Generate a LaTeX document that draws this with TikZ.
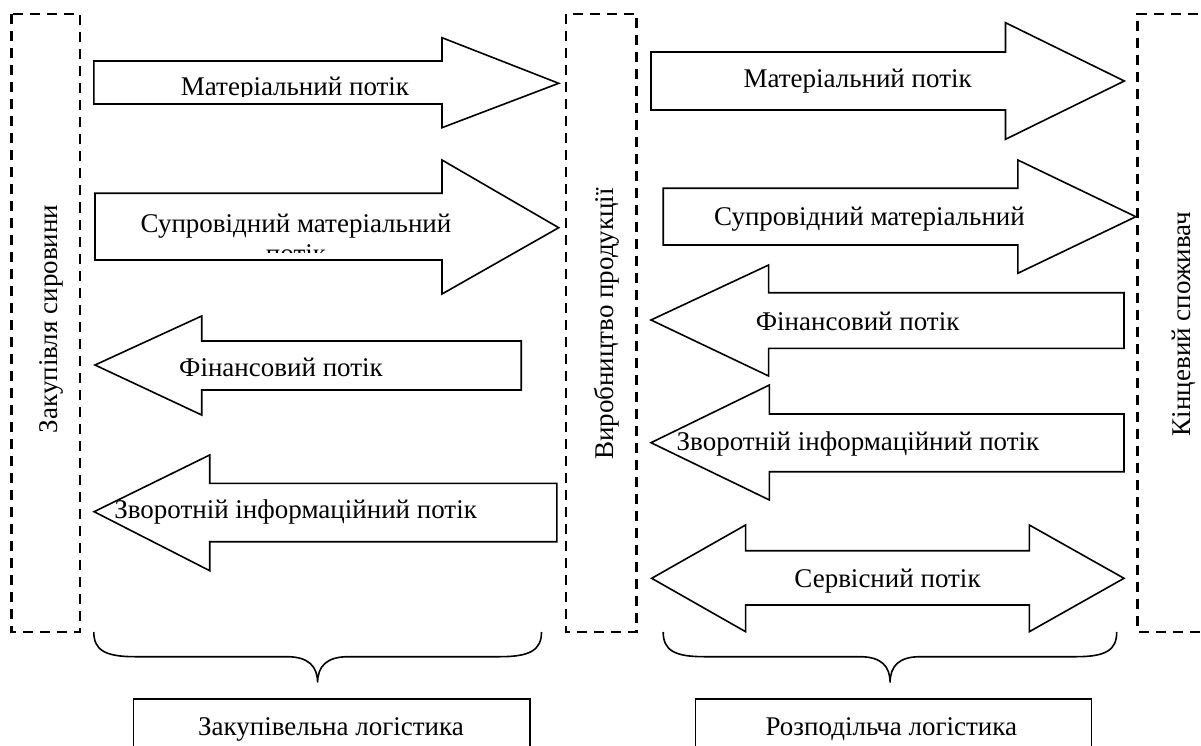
\documentclass[tikz,border=0pt]{standalone}
\usepackage{fontspec}
\setmainfont{Liberation Serif}
\begin{document}
\begin{tikzpicture}[x=1pt,y=-1pt,
  flow/.style={draw=black, line width=1.6pt, fill=white, line join=miter},
  zone/.style={draw=black, line width=2.2pt, dash pattern=on 10pt off 7pt},
  lbl/.style={font=\fontsize{27}{30}\selectfont, inner sep=0pt, anchor=base},
  vlbl/.style={font=\fontsize{27}{30}\selectfont, inner sep=0pt, anchor=base, rotate=90},
  brace/.style={draw=black, line width=1.6pt},
  box/.style={draw=black, line width=1.6pt, anchor=north west, inner sep=0pt}]
\clip (0,0) rectangle (1201,746);
\fill[white] (0,0) rectangle (1201,746);

% dashed zones
\draw[zone] (11.5,14) rectangle (79.6,631.7);
\draw[zone] (565.6,14) rectangle (636.4,631.7);
\draw[zone] (1215,14) -| (1137.4,631.7) -- (1215,631.7);

\node[vlbl] (zs) at (57,319) {Закупівля сировини};
\node[vlbl] (vp) at (613,324) {Виробництво продукції};
\node[vlbl] (ks) at (1190,324) {Кінцевий споживач};

% left panel arrows
\draw[flow] (93.8,61) -- (442,61) -- (442,37.7) -- (558.7,83.3) -- (442,127.7) -- (442,104) -- (93.8,104) -- cycle;
\begin{scope}
  \clip (94,61) rectangle (460,97);
  \node[lbl] (a1) at (295,96) {Матеріальний потік};
\end{scope}

\draw[flow] (95,193.3) -- (442,193.3) -- (442,160) -- (558.7,227.7) -- (442,294) -- (442,260) -- (95,260) -- cycle;
\begin{scope}
  \clip (95,193.3) rectangle (470,252);
  \node[lbl] (a2) at (296,232) {Супровідний матеріальний};
  \node[lbl] (a2b) at (296,262) {потік};
\end{scope}

\draw[flow] (95,365) -- (201.7,316) -- (201.7,341) -- (521.2,341) -- (521.2,390) -- (201.7,390) -- (201.7,415) -- cycle;
\node[lbl] (a3) at (281,376.7) {Фінансовий потік};

\draw[flow] (94.1,511.7) -- (209.7,455) -- (209.7,483.3) -- (556.8,483.3) -- (556.8,541.7) -- (209.7,541.7) -- (209.7,570.7) -- cycle;
\node[lbl] (a4) at (295.6,518.3) {Зворотній інформаційний потік};

% right panel arrows
\draw[flow] (651,52) -- (1005.5,52) -- (1005.5,22.7) -- (1124.3,81) -- (1005.5,139.3) -- (1005.5,110) -- (651,110) -- cycle;
\node[lbl] (r1) at (857.6,88) {Матеріальний потік};

\draw[flow] (663.2,188.3) -- (1017.8,188.3) -- (1017.8,160) -- (1135.8,216.7) -- (1017.8,273.3) -- (1017.8,245) -- (663.2,245) -- cycle;
\node[lbl] (r2) at (869.5,225) {Супровідний матеріальний};

\draw[flow] (651,320) -- (768.6,265) -- (768.6,292.7) -- (1124,292.7) -- (1124,348.3) -- (768.6,348.3) -- (768.6,376) -- cycle;
\node[lbl] (r3) at (857.6,330) {Фінансовий потік};

\draw[flow] (651,442.7) -- (769.4,385) -- (769.4,414) -- (1124,414) -- (1124,471.7) -- (769.4,471.7) -- (769.4,500) -- cycle;
\node[lbl] (r4) at (858,450) {Зворотній інформаційний потік};

\draw[flow] (651.7,578.3) -- (745.6,525) -- (745.6,550.7) -- (1029.3,550.7) -- (1029.3,525) -- (1124,578.3) -- (1029.3,631.7) -- (1029.3,605) -- (745.6,605) -- (745.6,631.7) -- cycle;
\node[lbl] (r5) at (887.5,587.3) {Сервісний потік};

% braces
\draw[brace] (93.8,632) .. controls (93.8,650) and (105,656.7) .. (135,656.7) -- (287,656.7) .. controls (308,656.7) and (317.6,666) .. (317.6,682.7) .. controls (317.6,666) and (327,656.7) .. (348,656.7) -- (500,656.7) .. controls (530,656.7) and (541.5,650) .. (541.5,632);
\draw[brace] (663.2,632) .. controls (663.2,650) and (674,656.7) .. (704,656.7) -- (860,656.7) .. controls (881,656.7) and (890.1,666) .. (890.1,682.7) .. controls (890.1,666) and (899,656.7) .. (920,656.7) -- (1076,656.7) .. controls (1106,656.7) and (1116.7,650) .. (1116.7,632);

% bottom boxes
\node[box, minimum width=396.5pt, minimum height=70pt] (zb) at (132.8,698.3) {};
\node[lbl] (zl) at (331,735) {Закупівельна логістика};
\node[box, minimum width=395.9pt, minimum height=70pt] (rb) at (694.7,698.3) {};
\node[lbl] (rl) at (891.3,735) {Розподільча логістика};
\end{tikzpicture}
\end{document}
